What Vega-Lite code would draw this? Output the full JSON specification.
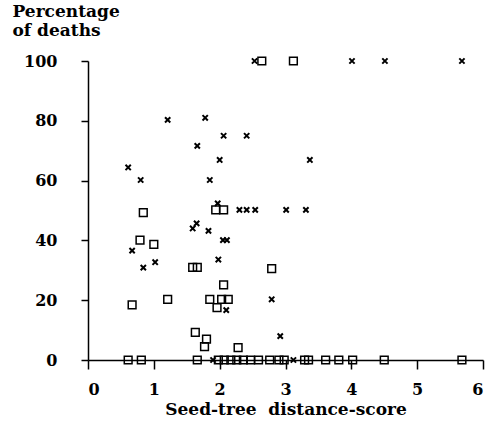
{
  "$schema": "https://vega.github.io/schema/vega-lite/v6.json",
  "width": 395,
  "height": 299,
  "autosize": "none",
  "padding": {"left": 88, "top": 61, "right": 3, "bottom": 68},
  "background": "white",
  "config": {
    "view": {"stroke": null},
    "axis": {
      "grid": false,
      "domainColor": "black",
      "domainWidth": 1.5,
      "tickColor": "black",
      "tickWidth": 1.5,
      "labelFont": "DejaVu Serif",
      "labelFontWeight": "bold",
      "labelFontSize": 16,
      "labelColor": "black",
      "titleFont": "DejaVu Serif",
      "titleFontWeight": "bold",
      "titleFontSize": 17,
      "titleColor": "black"
    }
  },
  "data": {
    "values": [
      {"s": "x", "score": 0.61, "pct": 64.4},
      {"s": "x", "score": 0.80, "pct": 60.2},
      {"s": "x", "score": 0.67, "pct": 36.6},
      {"s": "x", "score": 0.84, "pct": 30.9},
      {"s": "x", "score": 1.02, "pct": 32.7},
      {"s": "x", "score": 1.21, "pct": 80.3},
      {"s": "x", "score": 1.78, "pct": 81},
      {"s": "x", "score": 1.66, "pct": 71.6},
      {"s": "x", "score": 1.85, "pct": 60.2},
      {"s": "x", "score": 2.0, "pct": 66.9},
      {"s": "x", "score": 2.06, "pct": 75},
      {"s": "x", "score": 2.41, "pct": 75},
      {"s": "x", "score": 3.37, "pct": 66.9},
      {"s": "x", "score": 2.53, "pct": 100},
      {"s": "x", "score": 4.01, "pct": 100},
      {"s": "x", "score": 4.51, "pct": 100},
      {"s": "x", "score": 5.68, "pct": 100},
      {"s": "x", "score": 1.59, "pct": 44},
      {"s": "x", "score": 1.65, "pct": 45.7},
      {"s": "x", "score": 1.83, "pct": 43.2},
      {"s": "x", "score": 1.97, "pct": 52.4},
      {"s": "x", "score": 1.98, "pct": 33.6},
      {"s": "x", "score": 2.30, "pct": 50.2},
      {"s": "x", "score": 2.41, "pct": 50.2},
      {"s": "x", "score": 2.54, "pct": 50.2},
      {"s": "x", "score": 3.01, "pct": 50.2},
      {"s": "x", "score": 3.31, "pct": 50.2},
      {"s": "x", "score": 2.05, "pct": 40.1},
      {"s": "x", "score": 2.11, "pct": 40.1},
      {"s": "x", "score": 2.1, "pct": 16.7},
      {"s": "x", "score": 2.79, "pct": 20.3},
      {"s": "x", "score": 2.92, "pct": 8},
      {"s": "x", "score": 1.9, "pct": 0},
      {"s": "x", "score": 3.12, "pct": 0},
      {"s": "sq", "score": 2.64, "pct": 100},
      {"s": "sq", "score": 3.12, "pct": 100},
      {"s": "sq", "score": 0.84, "pct": 49.3},
      {"s": "sq", "score": 0.79, "pct": 40.1},
      {"s": "sq", "score": 1.00, "pct": 38.7},
      {"s": "sq", "score": 1.94, "pct": 50.2},
      {"s": "sq", "score": 2.06, "pct": 50.2},
      {"s": "sq", "score": 1.59, "pct": 31},
      {"s": "sq", "score": 1.66, "pct": 31},
      {"s": "sq", "score": 2.79, "pct": 30.6},
      {"s": "sq", "score": 2.06, "pct": 25.1},
      {"s": "sq", "score": 1.21, "pct": 20.3},
      {"s": "sq", "score": 0.67, "pct": 18.4},
      {"s": "sq", "score": 1.85, "pct": 20.3},
      {"s": "sq", "score": 2.03, "pct": 20.3},
      {"s": "sq", "score": 2.13, "pct": 20.3},
      {"s": "sq", "score": 1.96, "pct": 17.5},
      {"s": "sq", "score": 1.63, "pct": 9.2},
      {"s": "sq", "score": 1.80, "pct": 7},
      {"s": "sq", "score": 1.77, "pct": 4.5},
      {"s": "sq", "score": 2.28, "pct": 4.1},
      {"s": "sq", "score": 0.61, "pct": 0},
      {"s": "sq", "score": 0.81, "pct": 0},
      {"s": "sq", "score": 1.66, "pct": 0},
      {"s": "sq", "score": 1.98, "pct": 0},
      {"s": "sq", "score": 2.07, "pct": 0},
      {"s": "sq", "score": 2.17, "pct": 0},
      {"s": "sq", "score": 2.26, "pct": 0},
      {"s": "sq", "score": 2.36, "pct": 0},
      {"s": "sq", "score": 2.47, "pct": 0},
      {"s": "sq", "score": 2.59, "pct": 0},
      {"s": "sq", "score": 2.76, "pct": 0},
      {"s": "sq", "score": 2.90, "pct": 0},
      {"s": "sq", "score": 2.98, "pct": 0},
      {"s": "sq", "score": 3.29, "pct": 0},
      {"s": "sq", "score": 3.35, "pct": 0},
      {"s": "sq", "score": 3.61, "pct": 0},
      {"s": "sq", "score": 3.81, "pct": 0},
      {"s": "sq", "score": 4.02, "pct": 0},
      {"s": "sq", "score": 4.50, "pct": 0},
      {"s": "sq", "score": 5.68, "pct": 0}
    ]
  },
  "encoding": {
    "x": {
      "field": "score",
      "type": "quantitative",
      "scale": {"domain": [0, 6], "nice": false},
      "axis": {
        "values": [0, 1, 2, 3, 4, 5, 6],
        "format": "d",
        "tickSize": 9,
        "labelPadding": 12,
        "title": "Seed-tree\u00a0\u00a0distance-score",
        "titlePadding": 4
      }
    },
    "y": {
      "field": "pct",
      "type": "quantitative",
      "scale": {"domain": [0, 100], "nice": false},
      "axis": {
        "values": [0, 20, 40, 60, 80, 100],
        "tickSize": 7,
        "labelPadding": 24,
        "title": ["Percentage", "of deaths"],
        "titleAngle": 0,
        "titleAlign": "left",
        "titleBaseline": "top",
        "titleX": -76,
        "titleY": -58,
        "titleLineHeight": 19
      }
    }
  },
  "layer": [
    {
      "transform": [{"filter": "datum.s === 'sq'"}],
      "mark": {"type": "square", "filled": false, "color": "black", "size": 60, "strokeWidth": 1.5, "opacity": 1}
    },
    {
      "transform": [{"filter": "datum.s === 'x'"}],
      "mark": {"type": "point", "shape": "M-1,-1L1,1M1,-1L-1,1", "filled": false, "color": "black", "size": 28, "strokeWidth": 2, "opacity": 1}
    }
  ]
}
